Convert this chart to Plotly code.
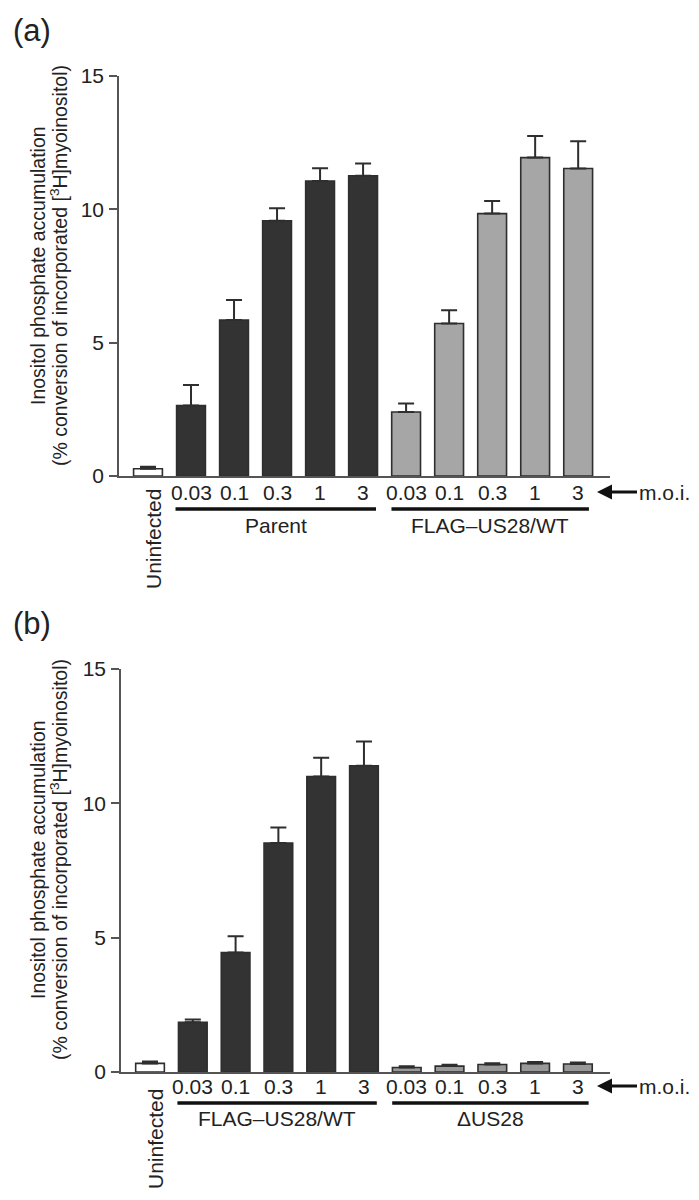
import plotly.graph_objects as go

# ---------------- data ----------------
moi_labels = ["0.03", "0.1", "0.3", "1", "3"]
uninf_label = "Uninfected"

# panel (a)
a_uninf = [0.27]
a_uninf_err = [0.08]
a_parent = [2.64, 5.85, 9.57, 11.06, 11.26]
a_parent_err = [0.77, 0.75, 0.47, 0.48, 0.46]
a_flag = [2.40, 5.72, 9.84, 11.94, 11.53]
a_flag_err = [0.32, 0.50, 0.47, 0.81, 1.02]
a_groups = ["Parent", "FLAG\u2013US28/WT"]

# panel (b)
b_uninf = [0.32]
b_uninf_err = [0.07]
b_flag = [1.85, 4.45, 8.52, 11.00, 11.40]
b_flag_err = [0.10, 0.60, 0.58, 0.70, 0.90]
b_dus28 = [0.17, 0.22, 0.28, 0.32, 0.30]
b_dus28_err = [0.04, 0.05, 0.05, 0.05, 0.05]
b_groups = ["FLAG\u2013US28/WT", "\u0394US28"]

y_ticks = [0, 5, 10, 15]

# ---------------- style ----------------
# the html body has an 8px default margin: draw in a 683x1184 figure and
# express reference pixel positions relative to that offset
OFF = 8
W, H = 699 - 2 * OFF, 1200 - 2 * OFF
FONT = "Liberation Sans, Arial, sans-serif"
TXT = "#222222"
AX = "#555555"
DARK = "#333333"
LIGHT = "#a6a6a6"
MID = "#999999"
WHITE = "#ffffff"
EDGE = "#2e2e2e"
BARW = 0.67


def px(x):
    return (x - OFF) / W


def py(y):
    return 1 - (y - OFF) / H


fig = go.Figure()


def add_bars(xa, ya, xs, vals, errs, color):
    fig.add_trace(go.Bar(
        x=xs, y=vals, width=BARW, xaxis=xa, yaxis=ya,
        marker=dict(color=color, line=dict(color=EDGE, width=1.6)),
        error_y=dict(type="data", array=errs, arrayminus=[0] * len(errs),
                     symmetric=False, color=EDGE, thickness=2, width=8),
        showlegend=False, hoverinfo="skip"))


n = len(moi_labels)
pos_u = [0]
pos_g1 = list(range(1, n + 1))
pos_g2 = list(range(n + 1, 2 * n + 1))

# panel (a)
add_bars("x", "y", pos_u, a_uninf, a_uninf_err, WHITE)
add_bars("x", "y", pos_g1, a_parent, a_parent_err, DARK)
add_bars("x", "y", pos_g2, a_flag, a_flag_err, LIGHT)
# panel (b)
add_bars("x2", "y2", pos_u, b_uninf, b_uninf_err, WHITE)
add_bars("x2", "y2", pos_g1, b_flag, b_flag_err, DARK)
add_bars("x2", "y2", pos_g2, b_dus28, b_dus28_err, MID)

panels = [
    dict(xa="x", ya="y", xk="xaxis", yk="yaxis", x0=119, x1=610, xr=[-0.674, 10.74],
         ytop=76, ybase=476, groups=a_groups, tag="(a)", tagy=31,
         moi_y=492, line_y=509, grp_y=525, title_c=266, uninf_top=487),
    dict(xa="x2", ya="y2", xk="xaxis2", yk="yaxis2", x0=121, x1=610, xr=[-0.678, 10.75],
         ytop=669, ybase=1072, groups=b_groups, tag="(b)", tagy=623,
         moi_y=1086, line_y=1103, grp_y=1118, title_c=860, uninf_top=1087),
]

annotations = []
shapes = []
layout = {}
for p in panels:
    layout[p["xk"]] = dict(domain=[px(p["x0"]), px(p["x1"])], range=p["xr"],
                           showline=True, linecolor=AX, linewidth=1.6,
                           showticklabels=False, ticks="", showgrid=False,
                           zeroline=False, fixedrange=True, automargin=False,
                           anchor=p["ya"])
    layout[p["yk"]] = dict(domain=[py(p["ybase"]), py(p["ytop"])], range=[0, 15],
                           tickvals=y_ticks, ticks="outside", ticklen=8,
                           tickwidth=1.6, tickcolor=AX, showline=True,
                           linecolor=AX, linewidth=1.6, showgrid=False,
                           zeroline=False, ticklabelstandoff=1, automargin=False,
                           tickfont=dict(family=FONT, size=21, color=TXT),
                           anchor=p["xa"])
    # m.o.i. labels
    for i, lab in enumerate(moi_labels + moi_labels):
        annotations.append(dict(x=(pos_g1 + pos_g2)[i], xref=p["xa"], y=py(p["moi_y"]),
                                yref="paper", text=lab, showarrow=False,
                                xanchor="center", yanchor="middle",
                                font=dict(family=FONT, size=21, color=TXT)))
    # Uninfected rotated label
    annotations.append(dict(x=0, xref=p["xa"], xshift=5, y=py(p["uninf_top"]),
                            yref="paper", text=uninf_label, textangle=-90,
                            showarrow=False, xanchor="center", yanchor="top",
                            font=dict(family=FONT, size=21, color=TXT)))
    # group underlines and labels
    for grp, rng in zip(p["groups"], [(0.64, 5.3), (5.66, 10.25)]):
        shapes.append(dict(type="line", xref=p["xa"], yref="paper",
                           x0=rng[0], x1=rng[1], y0=py(p["line_y"]), y1=py(p["line_y"]),
                           line=dict(color="#111111", width=3.5)))
        annotations.append(dict(x=(rng[0] + rng[1]) / 2, xref=p["xa"], y=py(p["grp_y"]),
                                yref="paper", text=grp, showarrow=False,
                                xanchor="center", yanchor="middle",
                                font=dict(family=FONT, size=21, color=TXT)))
    # m.o.i. arrow
    annotations.append(dict(x=px(597), xref="paper", y=py(p["moi_y"]), yref="paper",
                            text="m.o.i.", showarrow=True, arrowhead=2, arrowsize=1,
                            arrowwidth=3, arrowcolor="#111111", ax=40, ay=0,
                            xanchor="left", yanchor="middle",
                            font=dict(family=FONT, size=21, color=TXT)))
    # panel tag
    annotations.append(dict(x=px(11), xref="paper", y=py(p["tagy"]), yref="paper",
                            text=p["tag"], showarrow=False, xanchor="left",
                            yanchor="middle",
                            font=dict(family=FONT, size=31, color=TXT)))
    # y titles
    annotations.append(dict(x=px(38), xref="paper", y=py(p["title_c"]), yref="paper",
                            text="Inositol phosphate accumulation", textangle=-90,
                            showarrow=False, xanchor="center", yanchor="middle",
                            font=dict(family=FONT, size=19.5, color=TXT)))
    annotations.append(dict(x=px(59), xref="paper", y=py(p["title_c"]), yref="paper",
                            text="(% conversion of incorporated [<sup>3</sup>H]myoinositol)",
                            textangle=-90, showarrow=False, xanchor="center",
                            yanchor="middle",
                            font=dict(family=FONT, size=19.5, color=TXT)))

fig.update_layout(
    width=W, height=H,
    margin=dict(l=0, r=0, t=0, b=0),
    paper_bgcolor="white", plot_bgcolor="white",
    barmode="overlay",
    annotations=annotations, shapes=shapes,
    **layout,
)

fig.write_html("out.html")
